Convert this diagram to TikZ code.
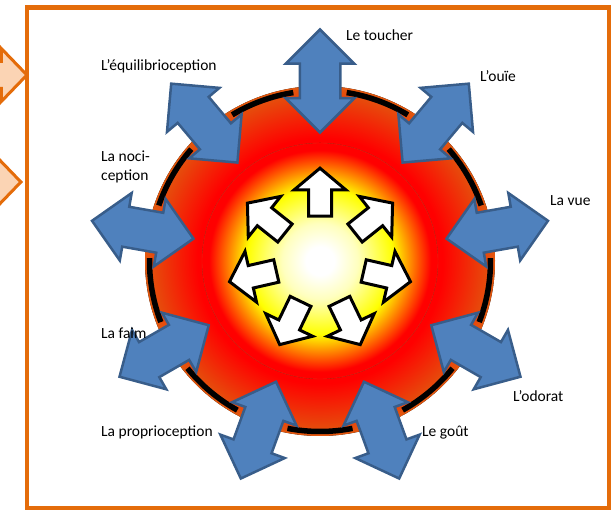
\documentclass[tikz,border=0pt]{standalone}
\usepackage{fontspec}
\setmainfont{Carlito}
\usetikzlibrary{shapes.arrows}

\definecolor{frameorange}{RGB}{228,108,10}
\definecolor{peach}{RGB}{251,212,180}
\definecolor{senseblue}{RGB}{79,129,189}
\definecolor{senseedge}{RGB}{56,93,138}
\definecolor{rimorange}{RGB}{226,88,14}
\definecolor{coreline}{RGB}{225,40,20}
\definecolor{paleyellow}{RGB}{255,255,190}

\pgfdeclareradialshading{coreglow}{\pgfpoint{0bp}{0bp}}{color(0bp)=(white); color(3bp)=(white); color(8bp)=(paleyellow); color(15.5bp)=(yellow); color(23.5bp)=(red); color(50bp)=(red)}
\pgfdeclareradialshading{rimglow}{\pgfpoint{0bp}{0bp}}{color(0bp)=(red); color(17.5bp)=(red); color(25bp)=(rimorange); color(50bp)=(rimorange)}

\begin{document}
\begin{tikzpicture}[x=1pt, y=1pt,
    sense/.style={double arrow, draw=senseedge, fill=senseblue, line width=2.5pt,
      minimum height=103pt, inner xsep=0pt, inner ysep=19pt,
      double arrow head extend=14pt, double arrow tip angle=90},
    inward/.style={single arrow, draw=black, fill=white, line width=3pt,
      minimum height=48pt, inner xsep=0pt, inner ysep=10pt,
      single arrow head extend=14.5pt, single arrow tip angle=100},
    feed/.style={single arrow, draw=frameorange, fill=peach, line width=3pt,
      minimum height=70pt, inner xsep=0pt, inner ysep=12pt,
      single arrow head extend=13pt, single arrow tip angle=92, anchor=tip},
    ringdash/.style={line width=5.5pt, black},
    sensetext/.style={anchor=base west, inner sep=0pt, font=\fontsize{15.5}{19}\selectfont}]
        \useasboundingbox (0,0) rectangle (614,513);
        \clip (0,0) rectangle (614,513);

        \node[feed] (in1) at (29,438) {};
        \node[feed] (in2) at (23,331) {};
        \draw[frameorange, line width=4.5pt] (27,5) rectangle (609,505.5);

        \coordinate (C) at (320,252);
        \fill[shading=rimglow] (C) circle (175);
        \fill[shading=coreglow] (C) circle (118);
        \draw[coreline, line width=0.4pt] (C) circle (118);

        \draw[ringdash] (C) ++(99:170.5) arc[start angle=99, end angle=121, radius=170.5];
        \draw[ringdash] (C) ++(59:170.5) arc[start angle=59, end angle=81, radius=170.5];
        \draw[ringdash] (C) ++(19:170.5) arc[start angle=19, end angle=41, radius=170.5];
        \draw[ringdash] (C) ++(-21:170.5) arc[start angle=-21, end angle=1, radius=170.5];
        \draw[ringdash] (C) ++(-61:170.5) arc[start angle=-61, end angle=-39, radius=170.5];
        \draw[ringdash] (C) ++(-101:170.5) arc[start angle=-101, end angle=-79, radius=170.5];
        \draw[ringdash] (C) ++(-141:170.5) arc[start angle=-141, end angle=-119, radius=170.5];
        \draw[ringdash] (C) ++(-181:170.5) arc[start angle=-181, end angle=-159, radius=170.5];
        \draw[ringdash] (C) ++(139:170.5) arc[start angle=139, end angle=161, radius=170.5];

        \node[sense, rotate=90] (a1) at ([shift={(90:180)}]C) {};
        \node[sense, rotate=50] (a2) at ([shift={(50:180)}]C) {};
        \node[sense, rotate=10] (a3) at ([shift={(10:180)}]C) {};
        \node[sense, rotate=-30] (a4) at ([shift={(-30:180)}]C) {};
        \node[sense, rotate=-70] (a5) at ([shift={(-70:180)}]C) {};
        \node[sense, rotate=-110] (a6) at ([shift={(-110:180)}]C) {};
        \node[sense, rotate=-150] (a7) at ([shift={(-150:180)}]C) {};
        \node[sense, rotate=170] (a8) at ([shift={(170:180)}]C) {};
        \node[sense, rotate=130] (a9) at ([shift={(130:180)}]C) {};

        \node[inward, rotate=90] (b1) at ([shift={(90:64)}]C) {};
        \node[inward, rotate=38.57] (b2) at ([shift={(38.57:64)}]C) {};
        \node[inward, rotate=-12.86] (b3) at ([shift={(-12.86:64)}]C) {};
        \node[inward, rotate=-64.29] (b4) at ([shift={(-64.29:64)}]C) {};
        \node[inward, rotate=-115.71] (b5) at ([shift={(-115.71:64)}]C) {};
        \node[inward, rotate=-167.14] (b6) at ([shift={(-167.14:64)}]C) {};
        \node[inward, rotate=141.43] (b7) at ([shift={(141.43:64)}]C) {};

        \node[sensetext] (toucher) at (346,472) {Le toucher};
        \node[sensetext] (equilibre) at (101,442) {L’équilibrioception};
        \node[sensetext] (ouie) at (480,431) {L’ouïe};
        \node[sensetext, align=left, anchor=west] (douleur) at (101,346) {La noci-\\ception};
        \node[sensetext] (vue) at (550,307) {La vue};
        \node[sensetext] (faim) at (101,174) {La faim};
        \node[sensetext] (odorat) at (513,111) {L’odorat};
        \node[sensetext] (proprio) at (101,76) {La proprioception};
        \node[sensetext] (gout) at (422,76) {Le goût};
    \end{tikzpicture}
\end{document}
